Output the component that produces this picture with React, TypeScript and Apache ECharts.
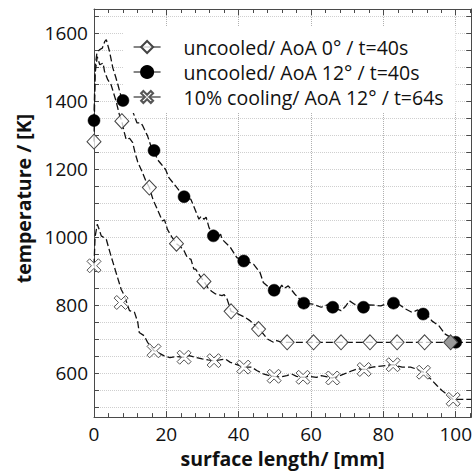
import React, { useEffect, useRef } from "react";
import * as echarts from "echarts";

// ---------- data ----------
const legendNames = [
  "uncooled/ AoA 0° / t=40s",
  "uncooled/ AoA 12° / t=40s",
  "10% cooling/ AoA 12° / t=64s",
];

const yTickLabels = [600, 800, 1000, 1200, 1400, 1600];
const yTickValues = [
  500, 550, 600, 650, 700, 750, 800, 850, 900, 950, 1000, 1050, 1100, 1150,
  1200, 1250, 1300, 1350, 1400, 1450, 1500, 1550, 1600, 1650,
];

// markers: uncooled AoA 0° (diamonds)
const s1MarkX = [0, 7.7, 15.3, 22.8, 30.4, 37.9, 45.5, 53.4, 60.7, 68.3, 76.3, 83.8, 91.4, 98.6];
const s1MarkY = [1280, 1340, 1145, 980, 869, 781, 729, 690, 690, 690, 690, 690, 690, 690];
// markers: uncooled AoA 12° (circles)
const s2MarkX = [0, 8, 16.6, 24.9, 33, 41.4, 49.8, 58, 66, 74.5, 82.8, 91, 100];
const s2MarkY = [1342, 1401, 1254, 1118, 1003, 929, 843, 805, 793, 793, 805, 773, 690];
// markers: 10% cooling (crosses)
const s3MarkX = [0, 7.5, 16.6, 24.9, 33.2, 41.4, 49.8, 57.8, 66, 74.7, 82.7, 91.1, 99.3];
const s3MarkY = [915, 807, 665, 646, 636, 617, 590, 587, 585, 610, 624, 602, 522];

// measured (dashed) curves
const s1Curve: [number, number][] = [
  [0, 1280], [0.3, 1480], [0.9, 1530], [1.6, 1506], [2.5, 1511], [2.9, 1487], [3.8, 1462],
  [4.7, 1448], [5.5, 1420], [6.1, 1399], [7.0, 1360], [7.7, 1340], [8.3, 1310], [8.9, 1286],
  [9.8, 1290], [10.7, 1277], [11.4, 1245], [12.1, 1220], [13.4, 1189], [14.3, 1165],
  [15.3, 1145], [16.3, 1110], [17.5, 1081], [18.9, 1047], [19.5, 1050], [20.3, 1022],
  [21.5, 1000], [22.8, 980], [24.0, 970], [24.9, 959], [25.8, 939], [26.8, 934], [27.6, 905],
  [28.1, 905], [29.3, 885], [30.4, 869], [31.5, 850], [32.5, 840], [33.6, 832], [35.4, 827],
  [36.0, 830], [36.8, 817], [37.9, 781], [39.5, 775], [40.5, 770], [41.8, 763], [43.2, 753],
  [44.5, 740], [45.5, 729], [46.8, 715], [47.9, 700], [49.6, 690], [50.5, 695], [52, 690],
  [53.4, 690], [104.3, 690],
];
const s2Curve: [number, number][] = [
  [0, 1342], [0.3, 1500], [0.8, 1540], [1.5, 1550], [2.3, 1555], [3.0, 1575], [3.4, 1580],
  [4.3, 1545], [5.2, 1497], [6.0, 1470], [6.6, 1448], [7.3, 1420], [8.0, 1401], [9.2, 1390],
  [10.7, 1369], [11.9, 1335], [13.0, 1335], [13.4, 1328], [14.8, 1297], [15.7, 1268],
  [16.6, 1254], [17.5, 1228], [18.5, 1215], [19.8, 1198], [20.7, 1174], [22.6, 1149],
  [24.9, 1118], [26.8, 1110], [28.1, 1076], [29.0, 1052], [29.6, 1060], [30.4, 1052],
  [31.0, 1058], [31.8, 1027], [33.0, 1003], [34.4, 1000], [35.0, 1008], [35.4, 993],
  [37.7, 969], [39.5, 939], [41.4, 929], [43.0, 925], [44.1, 920], [45.9, 895], [46.8, 866],
  [48.5, 850], [49.8, 843], [51.2, 845], [51.9, 858], [52.5, 848], [53.7, 856], [55.5, 832],
  [57, 815], [58.0, 805], [60.5, 802], [62.8, 793], [64.5, 800], [66.0, 793], [67.5, 787],
  [68.3, 783], [69.5, 795], [70.6, 812], [72, 802], [74.5, 793], [76, 800], [77.5, 799],
  [79.3, 797], [80.6, 802], [82.8, 805], [84.5, 800], [86.1, 788], [87.9, 778], [89.5, 785],
  [91, 773], [92.5, 765], [93.4, 753], [95.3, 739], [97.1, 714], [98.5, 705], [100, 690],
];
const s3Curve: [number, number][] = [
  [0, 915], [0.3, 1000], [0.9, 1037], [1.5, 1020], [2.0, 1003], [3.4, 993], [4.0, 970],
  [4.7, 944], [6.1, 895], [7.5, 846], [8.4, 827], [9.8, 783], [11.2, 778], [12.1, 749],
  [12.5, 719], [13.9, 709], [14.8, 690], [16.6, 665], [18, 658], [19.4, 650], [21, 645],
  [23, 648], [24.9, 646], [26.3, 651], [28.1, 646], [29.9, 641], [31.5, 638], [33.2, 636],
  [34.8, 638], [36.3, 641], [37.7, 631], [39.1, 626], [41.4, 617], [43.6, 617], [45.0, 607],
  [46.8, 597], [48.5, 592], [49.8, 590], [51.5, 588], [53.3, 592], [54.6, 597], [56, 590],
  [57.8, 587], [59.5, 590], [61.5, 587], [62.8, 592], [64.5, 588], [66, 585], [67.5, 590],
  [69.2, 597], [71.5, 607], [73, 612], [74.7, 610], [77, 617], [79.3, 620], [81, 622],
  [82.7, 624], [84, 620], [85.2, 617], [87.5, 617], [89.5, 610], [91.1, 602], [93, 583],
  [94.8, 563], [96.2, 548], [97.8, 535], [99.3, 522], [104.3, 522],
];

// ---------- styles ----------
const FONT = "'Open Sans', 'DejaVu Sans', sans-serif";
const AXIS = "#4a4a4a";
const X_MIN = 0;
const X_MAX = 104.3;
const Y_MIN = 470;
const Y_MAX = 1670;
const CROSS_PATH =
  "path://M3,0 L8,5 L13,0 L16,3 L11,8 L16,13 L13,16 L8,11 L3,16 L0,13 L5,8 L0,3 Z";

const zip = (xs: number[], ys: number[]) => xs.map((x, i) => [x, ys[i]]);

export default function App() {
  const ref = useRef<HTMLDivElement>(null);

  useEffect(() => {
    if (!ref.current) return;
    const chart = echarts.init(ref.current, null, { renderer: "svg" });

    const curveStyle = { color: "#111", width: 1.3, type: [7, 3] as any };

    const baseX = {
      type: "value" as const,
      min: X_MIN,
      max: X_MAX,
      interval: 20,
      axisLine: { show: true, onZero: false, lineStyle: { color: AXIS, width: 1 } },
      axisTick: { show: true, inside: true, length: 6, lineStyle: { color: AXIS } },
      minorTick: { show: true, splitNumber: 5, length: 4, lineStyle: { color: AXIS } },
    };
    const baseY = {
      type: "value" as const,
      min: Y_MIN,
      max: Y_MAX,
      axisLine: { show: true, onZero: false, lineStyle: { color: AXIS, width: 1 } },
      axisTick: {
        show: true,
        inside: true,
        length: 5,
        customValues: yTickValues,
        lineStyle: { color: AXIS },
      },
    };

    const s1Data: any[] = zip(s1MarkX, s1MarkY).map((p, i) =>
      i === s1MarkX.length - 1 ? { value: p, itemStyle: { color: "#9a9a9a" } } : p
    );

    chart.setOption({
      animation: false,
      backgroundColor: "#fff",
      textStyle: { fontFamily: FONT },
      grid: { left: 94, right: 1, top: 9, bottom: 55, containLabel: false },
      legend: {
        data: legendNames,
        left: 123,
        top: 27,
        orient: "vertical",
        padding: [10, 12, 6, 10],
        backgroundColor: "#fff",
        itemWidth: 27,
        itemHeight: 15,
        itemGap: 5,
        selectedMode: false,
        lineStyle: { color: "#333", width: 1.2, type: "solid", opacity: 1 },
        textStyle: {
          fontFamily: FONT,
          fontSize: 19.5,
          color: "#111",
          lineHeight: 18,
          padding: [0, 0, 0, 18],
        },
      },
      xAxis: [
        {
          ...baseX,
          position: "bottom",
          name: "surface length/ [mm]",
          nameLocation: "middle",
          nameGap: 26,
          nameTextStyle: { fontFamily: FONT, fontSize: 19.5, fontWeight: "bold", color: "#111" },
          axisLabel: {
            fontFamily: FONT,
            fontSize: 19,
            color: "#111",
            margin: 7,
            formatter: (v: number) => (v % 20 === 0 ? String(v) : ""),
          },
          splitLine: { show: true, lineStyle: { color: "#b0b0b0", width: 1, type: [1, 1] } },
        },
        {
          ...baseX,
          position: "top",
          axisLabel: { show: false },
          splitLine: { show: false },
        },
      ],
      yAxis: [
        {
          ...baseY,
          position: "left",
          name: "temperature / [K]",
          nameLocation: "middle",
          nameGap: 50,
          nameTextStyle: {
            fontFamily: FONT,
            fontSize: 19.5,
            fontWeight: "bold",
            color: "#111",
            padding: [0, 0, 0, 29],
          },
          axisLabel: {
            fontFamily: FONT,
            fontSize: 19,
            color: "#111",
            margin: 6,
            customValues: yTickLabels,
            formatter: (v: number) => String(v),
          },
          splitLine: { show: true, lineStyle: { color: "#cfcfcf", width: 1, type: [1, 1] } },
        },
        {
          ...baseY,
          position: "right",
          axisLabel: { show: false },
          splitLine: { show: false },
        },
      ],
      series: [
        {
          type: "line",
          data: s1Curve,
          symbol: "none",
          silent: true,
          lineStyle: curveStyle,
          z: 2,
        },
        {
          type: "line",
          data: s2Curve,
          symbol: "none",
          silent: true,
          lineStyle: curveStyle,
          z: 2,
        },
        {
          type: "line",
          data: s3Curve,
          symbol: "none",
          silent: true,
          lineStyle: curveStyle,
          z: 2,
        },
        {
          name: legendNames[1],
          type: "line",
          data: zip(s2MarkX, s2MarkY),
          symbol: "circle",
          symbolSize: 12,
          showAllSymbol: true,
          lineStyle: { opacity: 0 },
          itemStyle: { color: "#000", borderColor: "#000", borderWidth: 0.5 },
          z: 4,
        },
        {
          name: legendNames[0],
          type: "line",
          data: s1Data,
          symbol: "diamond",
          symbolSize: [14, 15],
          showAllSymbol: true,
          lineStyle: { opacity: 0 },
          itemStyle: { color: "rgba(255,255,255,0.75)", borderColor: "#444", borderWidth: 1 },
          z: 5,
        },
        {
          name: legendNames[2],
          type: "line",
          data: zip(s3MarkX, s3MarkY),
          symbol: CROSS_PATH,
          symbolSize: 14,
          showAllSymbol: true,
          lineStyle: { opacity: 0 },
          itemStyle: { color: "rgba(255,255,255,0.75)", borderColor: "#555", borderWidth: 1 },
          z: 4,
        },
      ],
    } as any);

    return () => chart.dispose();
  }, []);

  return (
    <div
      ref={ref}
      style={{ position: "absolute", left: 0, top: 0, width: 475, height: 473 }}
    />
  );
}
